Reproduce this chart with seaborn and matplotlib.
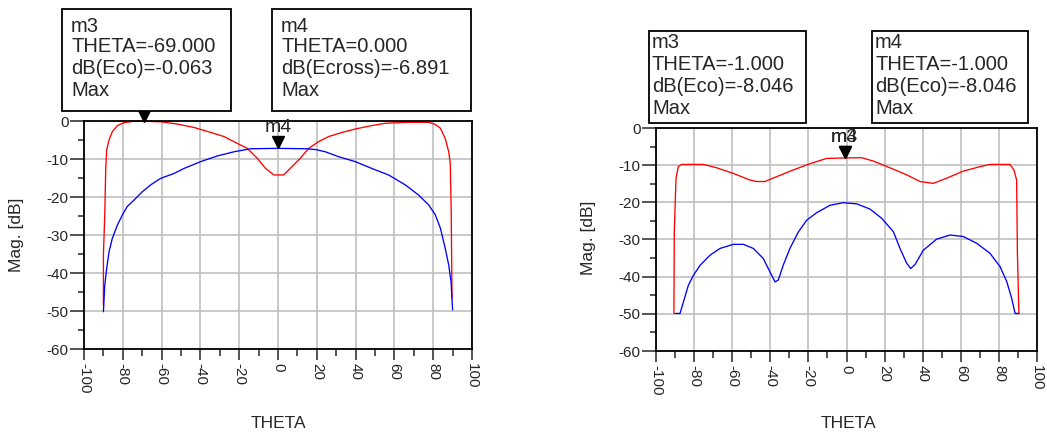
import matplotlib
matplotlib.use("Agg")
import matplotlib.pyplot as plt
import matplotlib.transforms as mtransforms
from matplotlib.patches import Rectangle
from matplotlib.ticker import MultipleLocator
import seaborn as sns
import pandas as pd

# ---------------- data ----------------
left_eco_theta = [-90.0, -90.0, -89.3, -88.8, -88.3, -87.1, -85.4, -82.8, -79.4, -74.2,
                  -69.1, -60.5, -51.9, -43.3, -34.7, -27.8, -21.0, -15.8, -10.7, -6.4,
                  -2.1, 2.9, 7.2, 11.5, 15.8, 21.0, 26.1, 33.0, 39.9, 48.4,
                  55.3, 65.6, 77.7, 81.1, 83.7, 86.2, 88.0, 88.8, 89.3, 89.7]
left_eco_db = [-48.4, -35.3, -24.7, -12.5, -7.6, -5.0, -2.8, -1.2, -0.44, -0.05,
               -0.063, -0.2, -0.8, -1.7, -3.0, -4.1, -5.9, -7.2, -9.8, -12.5,
               -14.2, -14.2, -12.0, -9.8, -7.2, -5.4, -4.1, -3.0, -2.1, -1.2,
               -0.6, -0.35, -0.35, -0.9, -1.9, -4.6, -8.1, -11.1, -24.7, -46.7]

left_xp_theta = [-90, -89.3, -88.3, -87.1, -85.4, -82.8, -80.2, -77.7, -74.2, -69.9,
                 -65.6, -60.5, -53.6, -48.5, -39.9, -31.3, -22.7, -14.1, 0, 14.1,
                 19.2, 24.4, 31.3, 39.9, 48.4, 57.0, 65.6, 72.5, 77.7, 81.1,
                 83.7, 86.2, 88.0, 89.2, 90.0]
left_xp_db = [-50.2, -43.2, -38.8, -34.4, -30.9, -27.4, -24.7, -22.5, -20.8, -18.6,
              -16.8, -15.1, -13.8, -12.5, -10.7, -9.2, -8.1, -7.3, -7.2, -7.3,
              -7.5, -8.1, -9.4, -10.7, -12.5, -14.2, -16.8, -19.5, -22.1, -24.7,
              -28.2, -33.5, -37.9, -42.3, -49.7]

right_eco_theta = [-90.6, -90.4, -89.5, -88.3, -86.6, -75.2, -68.2, -59.5, -50.7, -47.2,
                   -42.8, -36.7, -28.0, -19.2, -10.5, -1.0, 8.0, 14.1, 22.8, 31.6,
                   38.6, 45.6, 52.6, 61.3, 70.1, 75.3, 85.8, 87.9, 89.3, 89.7,
                   90.5]
right_eco_db = [-49.9, -27.9, -13.5, -10.4, -9.8, -9.8, -10.7, -12.2, -14.0, -14.4,
                -14.4, -13.1, -11.3, -9.6, -8.2, -8.046, -8.0, -8.9, -10.7, -12.6,
                -14.4, -14.9, -13.5, -11.6, -10.4, -9.8, -9.8, -11.3, -14.0, -33.3,
                -49.9]

right_xp_theta = [-90.0, -87.4, -85.6, -83.0, -80.3, -76.8, -71.6, -66.4, -59.4, -54.2,
                  -48.9, -43.7, -40.2, -37.5, -35.8, -33.2, -29.7, -25.3, -20.9, -15.7,
                  -8.7, -1.7, 5.3, 12.3, 18.5, 24.6, 28.1, 31.6, 33.7, 36.0,
                  40.3, 47.3, 54.3, 61.3, 68.3, 75.3, 80.6, 84.1, 86.7, 88.5,
                  90.5]
right_xp_db = [-49.9, -49.9, -46.8, -42.3, -39.6, -36.9, -34.2, -32.4, -31.3, -31.3,
               -32.4, -35.1, -38.7, -41.4, -40.9, -36.9, -32.4, -28.0, -24.8, -22.8,
               -20.8, -20.1, -20.4, -21.8, -24.3, -27.9, -32.4, -36.4, -37.8, -36.7,
               -32.9, -29.9, -28.8, -29.2, -31.0, -33.7, -37.3, -41.3, -45.8, -49.9,
               -49.9]

x_ticks = [-100, -80, -60, -40, -20, 0, 20, 40, 60, 80, 100]
y_ticks = [-60, -50, -40, -30, -20, -10, 0]

# markers: (label, theta, value)
left_markers = [("m3", -69.0, -0.063), ("m4", 0.0, -7.1)]
right_markers = [("m3", -1.0, -8.046), ("m4", -1.0, -8.046)]

left_boxes = [["m3", "THETA=-69.000", "dB(Eco)=-0.063", "Max"],
              ["m4", "THETA=0.000", "dB(Ecross)=-6.891", "Max"]]
right_boxes = [["m3", "THETA=-1.000", "dB(Eco)=-8.046", "Max"],
               ["m4", "THETA=-1.000", "dB(Eco)=-8.046", "Max"]]

x_label = "THETA"
y_label = "Mag. [dB]"

# ---------------- style ----------------
sns.set_style("white")
plt.rcParams["font.family"] = ["Liberation Sans", "DejaVu Sans"]
plt.rcParams["axes.unicode_minus"] = False

W, H = 1047, 436
fig = plt.figure(figsize=(W / 100, H / 100), dpi=100)


def fx(px):
    return px / W


def fy(py):
    return 1 - py / H


def make_axes(l, t, r, b):
    return fig.add_axes([fx(l), fy(b), fx(r) - fx(l), fy(t) - fy(b)])


def style_axes(ax):
    ax.set_xlim(-100, 100)
    ax.set_ylim(-60, 0)
    ax.set_xticks(x_ticks)
    ax.set_yticks(y_ticks)
    ax.xaxis.set_minor_locator(MultipleLocator(10))
    ax.yaxis.set_minor_locator(MultipleLocator(5))
    ax.set_xticklabels([str(v) for v in x_ticks], rotation=-90, ha="center", va="top")
    ax.set_yticklabels([str(v) for v in y_ticks])
    ax.grid(True, which="major", color="#c0c0c0", linewidth=1.2)
    ax.set_axisbelow(True)
    for s in ax.spines.values():
        s.set_color("black")
        s.set_linewidth(1.3)
        s.set_visible(True)
    ax.tick_params(axis="x", which="major", direction="out", length=8, width=1.1,
                   labelsize=11, pad=2, bottom=True, top=False)
    ax.tick_params(axis="x", which="minor", direction="out", length=5, width=1.1,
                   bottom=True, top=False)
    ax.tick_params(axis="y", which="major", direction="out", length=10, width=1.1,
                   labelsize=11, pad=1, left=True, right=False)
    ax.tick_params(axis="y", which="minor", direction="out", length=4, width=1.1,
                   left=True, right=False)
    ax.set_xlabel("")
    ax.set_ylabel("")


def draw_curves(ax, th1, v1, th2, v2):
    d1 = pd.DataFrame({"theta": th1, "db": v1})
    d2 = pd.DataFrame({"theta": th2, "db": v2})
    sns.lineplot(data=d1, x="theta", y="db", ax=ax, color="#ff0000", linewidth=0.95,
                 estimator=None, sort=False, clip_on=False)
    sns.lineplot(data=d2, x="theta", y="db", ax=ax, color="#0000ff", linewidth=0.95,
                 estimator=None, sort=False, clip_on=False)


def draw_markers(ax, markers):
    tri = mtransforms.offset_copy(ax.transData, fig=fig, x=0, y=4, units="points")
    for lab, th, v in markers:
        ax.plot([th], [v], marker="v", color="black", markersize=8, transform=tri,
                clip_on=False, zorder=5)
        ax.annotate(lab, (th, v), xytext=(0, 15), textcoords="offset points",
                    ha="center", va="center", fontsize=14, zorder=6,
                    annotation_clip=False)


def draw_box(l, t, r, b, lines, pad, ys):
    rect = Rectangle((fx(l), fy(b)), fx(r) - fx(l), fy(t) - fy(b), transform=fig.transFigure,
                     facecolor="white", edgecolor="black", linewidth=1.3)
    fig.add_artist(rect)
    for line, y in zip(lines, ys):
        fig.text(fx(l + pad), fy(y), line, ha="left", va="center", fontsize=14.5)


# ---- left panel ----
axL = make_axes(84, 121, 472, 349)
draw_curves(axL, left_eco_theta, left_eco_db, left_xp_theta, left_xp_db)
style_axes(axL)
draw_markers(axL, left_markers)
fig.text(fx(17), fy(235), y_label, rotation=90, ha="center", va="center", fontsize=12.5)
fig.text(fx(278), fy(423), x_label, ha="center", va="center", fontsize=12.5)
draw_box(62, 9, 231, 111, left_boxes[0], 9, [27, 47, 68, 90])
draw_box(272, 9, 471, 111, left_boxes[1], 9, [27, 47, 68, 90])

# ---- right panel ----
axR = make_axes(656, 128, 1037, 351)
draw_curves(axR, right_eco_theta, right_eco_db, right_xp_theta, right_xp_db)
style_axes(axR)
draw_markers(axR, right_markers)
fig.text(fx(588), fy(238), y_label, rotation=90, ha="center", va="center", fontsize=12.5)
fig.text(fx(848), fy(423), x_label, ha="center", va="center", fontsize=12.5)
draw_box(649, 31, 806, 123, right_boxes[0], 3, [43, 65, 87, 108])
draw_box(872, 31, 1028, 123, right_boxes[1], 3, [43, 65, 87, 108])

fig.savefig("out.png", dpi=100)
